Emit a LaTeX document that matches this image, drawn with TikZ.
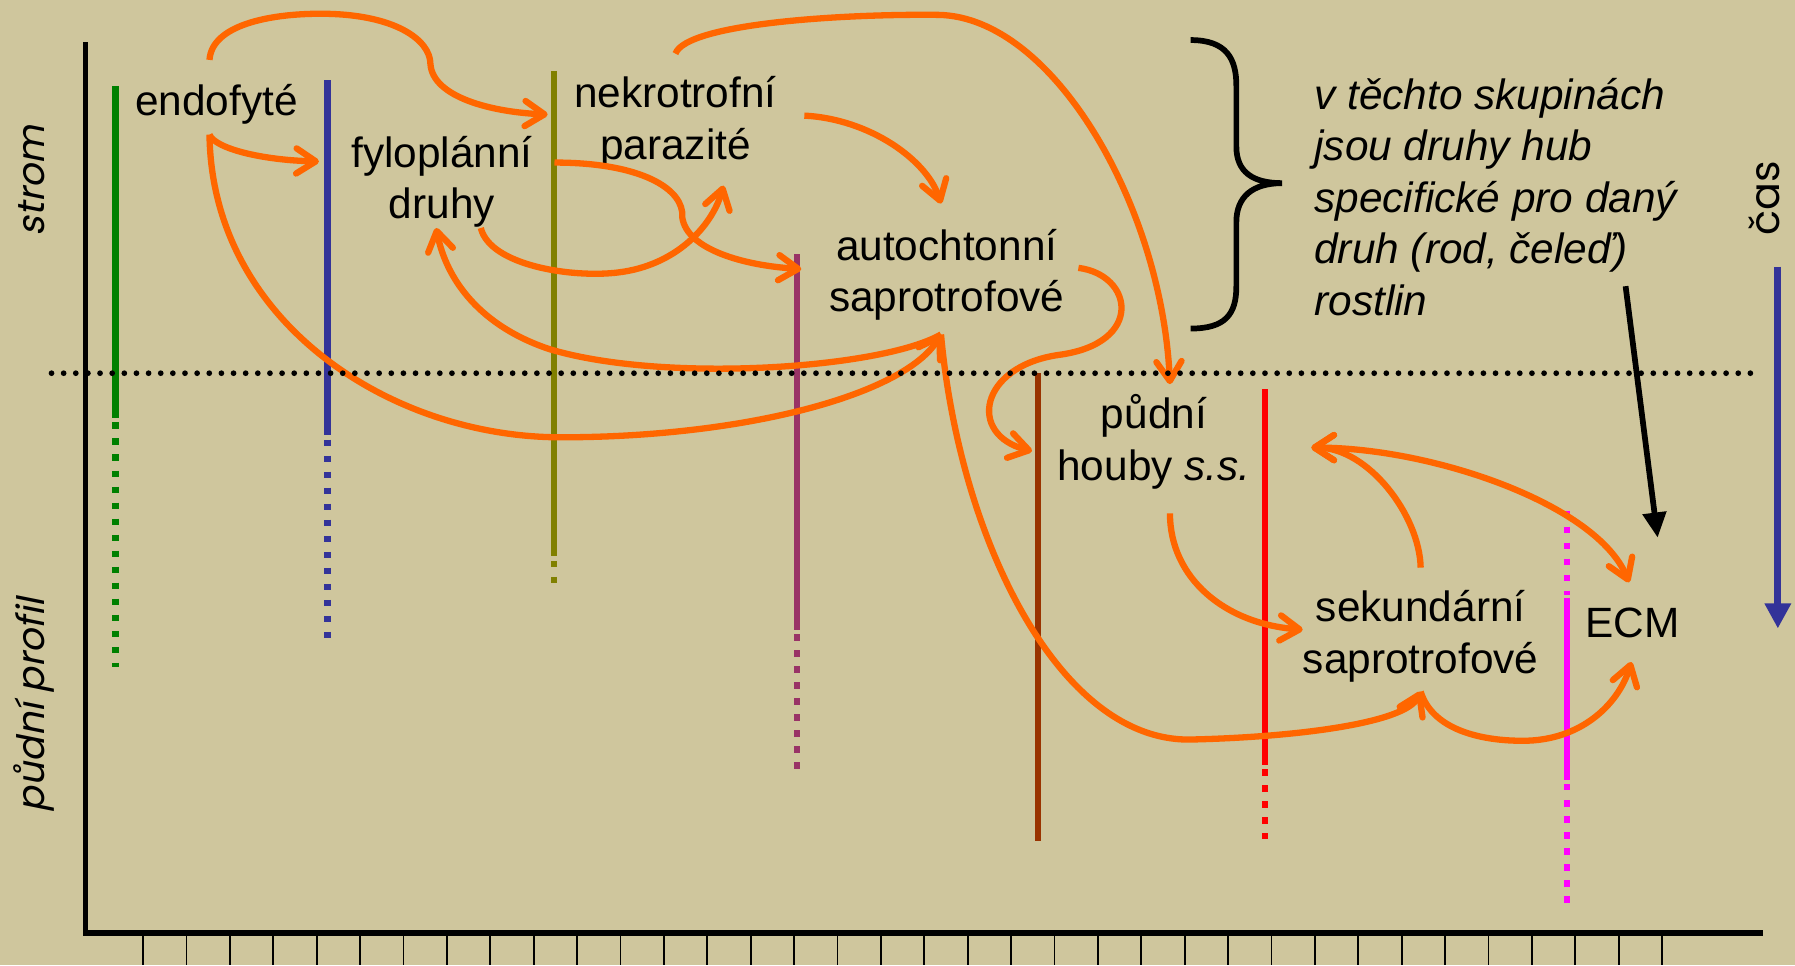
\documentclass[tikz,border=0pt]{standalone}
\usepackage{fontspec}
\setmainfont{Liberation Sans}
\newfontfamily\gothic{Poppins}[FakeSlant=0.2]
\newfontfamily\gothicup{Poppins}
\usetikzlibrary{arrows.meta}
\definecolor{pozadi}{RGB}{207,198,157}
\definecolor{oranz}{RGB}{255,102,0}
\definecolor{zelena}{RGB}{0,128,0}
\definecolor{modra}{RGB}{51,51,153}
\definecolor{olivova}{RGB}{128,128,0}
\definecolor{fialova}{RGB}{153,51,102}
\definecolor{hneda}{RGB}{153,51,0}
\definecolor{cervena}{RGB}{255,0,0}
\definecolor{purpur}{RGB}{255,0,255}

\begin{document}
\begin{tikzpicture}[x=1pt,y=-1pt,
  lbl/.style={font=\fontsize{37}{45}\selectfont,align=center,inner sep=0pt},
  pozn/.style={font=\fontsize{37}{45}\selectfont\itshape,align=left,inner sep=0pt},
  osa/.style={font=\gothic\fontsize{33}{33}\selectfont,rotate=90,inner sep=0pt},
  life/.style={line width=5.5pt},
  soil/.style={dash pattern=on 5.5pt off 8.5pt},
  tok/.style={draw=oranz,line width=5.5pt,-{Straight Barb[round,length=17pt,width=22pt]}},
  tok2/.style={tok,{Straight Barb[round,length=17pt,width=22pt]}-{Straight Barb[round,length=17pt,width=22pt]}},
  tick/.style={line width=1.5pt}]
  \fill[pozadi] (0,0) rectangle (1568,843);
  \useasboundingbox (0,0) rectangle (1568,843);

  \draw[line width=4.5pt] (75,37) -- (75,815) -- (1540,815);
  \foreach \i in {0,...,35}
    \draw[tick] ({125+37.91*\i},815) -- ++(0,28);

  \foreach \xx/\ya/\yb/\yc/\cc in {101/75/365/583/zelena, 286/70/380/563/modra,
      484/62/486/511/olivova, 696/222/550/677/fialova, 1105/340/668/733/cervena} {
    \draw[life,\cc] (\xx,\ya) -- (\xx,\yb);
    \draw[life,\cc,soil] (\xx,\yb+4) -- (\xx,\yc);
  }
  \draw[life,hneda] (907,326) -- (907,735);
  \draw[life,purpur,soil] (1369,446) -- (1369,520);
  \draw[life,purpur] (1369,522) -- (1369,681);
  \draw[life,purpur,soil] (1369,685) -- (1369,790);

  \node[osa] (strom) at (28,158) {strom};
  \node[osa] (profil) at (30,616) {půdní profil};
  \node[osa,font=\gothicup\fontsize{36}{36}\selectfont] (cas) at (1541,173) {čas};

  \node[lbl] (endo) at (189,91) {endofyté};
  \node[lbl] (fylo) at (386,159) {fyloplánní\\druhy};
  \node[lbl] (nekro) at (590,107) {nekrotrofní\\parazité};
  \node[lbl] (auto) at (827,240) {autochtonní\\saprotrofové};
  \node[lbl] (houby) at (1008,386) {půdní\\houby \textit{s.s.}};
  \node[lbl] (sek) at (1241,556) {sekundární\\saprotrofové};
  \node[lbl] (ecm) at (1426,544) {ECM};
  \node[pozn,anchor=north west] (skup) at (1148,68)
    {v těchto skupinách\\jsou druhy hub\\specifické pro daný\\druh (rod, čeleď)\\rostlin};

  \draw[line width=5pt] (1040,35) .. controls (1072,35) and (1080,52) .. (1080,75)
    -- (1080,128) .. controls (1080,150) and (1094,160) .. (1120,160)
    .. controls (1094,160) and (1080,172) .. (1080,194) -- (1080,250)
    .. controls (1080,275) and (1070,287) .. (1040,287);
  \draw[line width=5pt,-{Triangle[length=22pt,width=20pt]}]
    ([xshift=272pt,yshift=-182pt]skup.north west) -- ([xshift=22pt,yshift=61pt]ecm.north);
  \coordinate (casA) at (1553,233);
  \coordinate (casB) at (1553,549);
  \draw[line width=6pt,modra,-{Triangle[length=22pt,width=22pt]}] (casA) -- (casB);

  \draw[tok] ([xshift=-6pt,yshift=21pt]endo.north) .. controls (185,22) and (235,12) .. (280,12)
    .. controls (345,12) and (376,35) .. (376,56)
    .. controls (378,85) and (430,98) .. ([xshift=-23pt,yshift=7pt]nekro.west);
  \draw[tok] ([xshift=-6pt,yshift=-9pt]endo.south) .. controls (188,130) and (230,140) .. ([xshift=-28pt,yshift=18pt]fylo.west);
  \draw[tok] ([xshift=-6pt,yshift=-9pt]endo.south) .. controls (185,280) and (340,382) .. (490,382)
    .. controls (650,382) and (790,345) .. ([xshift=-5pt,yshift=-12pt]auto.south);
  \draw[tok] ([xshift=-5pt,yshift=-12pt]auto.south) .. controls (770,322) and (580,335) .. (480,305)
    .. controls (420,285) and (390,245) .. ([xshift=-5pt]fylo.south);
  \draw[tok] ([xshift=-5pt,yshift=-12pt]auto.south) .. controls (838,470) and (925,648) .. (1040,646)
    .. controls (1130,644) and (1228,632) .. ([yshift=-8pt]sek.south);
  \draw[tok] ([yshift=-8pt]sek.south) .. controls (1252,640) and (1300,648) .. (1335,647)
    .. controls (1385,645) and (1415,612) .. ([xshift=-1pt,yshift=-21pt]ecm.south);
  \draw[tok2] ([xshift=53pt,yshift=-5pt]houby.east) .. controls (1250,391) and (1395,440) .. ([xshift=-3pt,yshift=22pt]ecm.north);
  \draw[tok] ([yshift=20pt]sek.north) .. controls (1240,450) and (1195,391) .. ([xshift=53pt,yshift=-5pt]houby.east);
  \draw[tok] ([xshift=14pt,yshift=-21pt]houby.south) .. controls (1022,505) and (1070,545) .. ([yshift=6pt]sek.west);
  \draw[tok] ([xshift=12pt,yshift=6pt]auto.east) .. controls (990,240) and (1000,300) .. (925,310)
    .. controls (855,320) and (845,380) .. ([xshift=-22pt,yshift=-8pt]houby.west);
  \draw[tok] ([yshift=20pt]nekro.north) .. controls (600,20) and (740,12) .. (820,13)
    .. controls (920,15) and (1015,180) .. ([xshift=14pt,yshift=9pt]houby.north);
  \draw[tok] ([xshift=24pt,yshift=6pt]nekro.east) .. controls (760,104) and (810,140) .. ([xshift=-5pt,yshift=22pt]auto.north);
  \draw[tok] ([xshift=-17pt,yshift=-35pt]nekro.west) .. controls (560,142) and (598,165) .. (596,190)
    .. controls (600,218) and (650,232) .. ([xshift=-24pt,yshift=5pt]auto.west);
  \draw[tok] ([xshift=34pt]fylo.south) .. controls (428,232) and (500,243) .. (540,238)
    .. controls (590,232) and (622,198) .. ([xshift=42pt,yshift=-15pt]nekro.south);

  \draw[line width=5pt,line cap=round,dash pattern=on 0pt off 10.6pt] (45,326) -- (1530,326);
\end{tikzpicture}
\end{document}
